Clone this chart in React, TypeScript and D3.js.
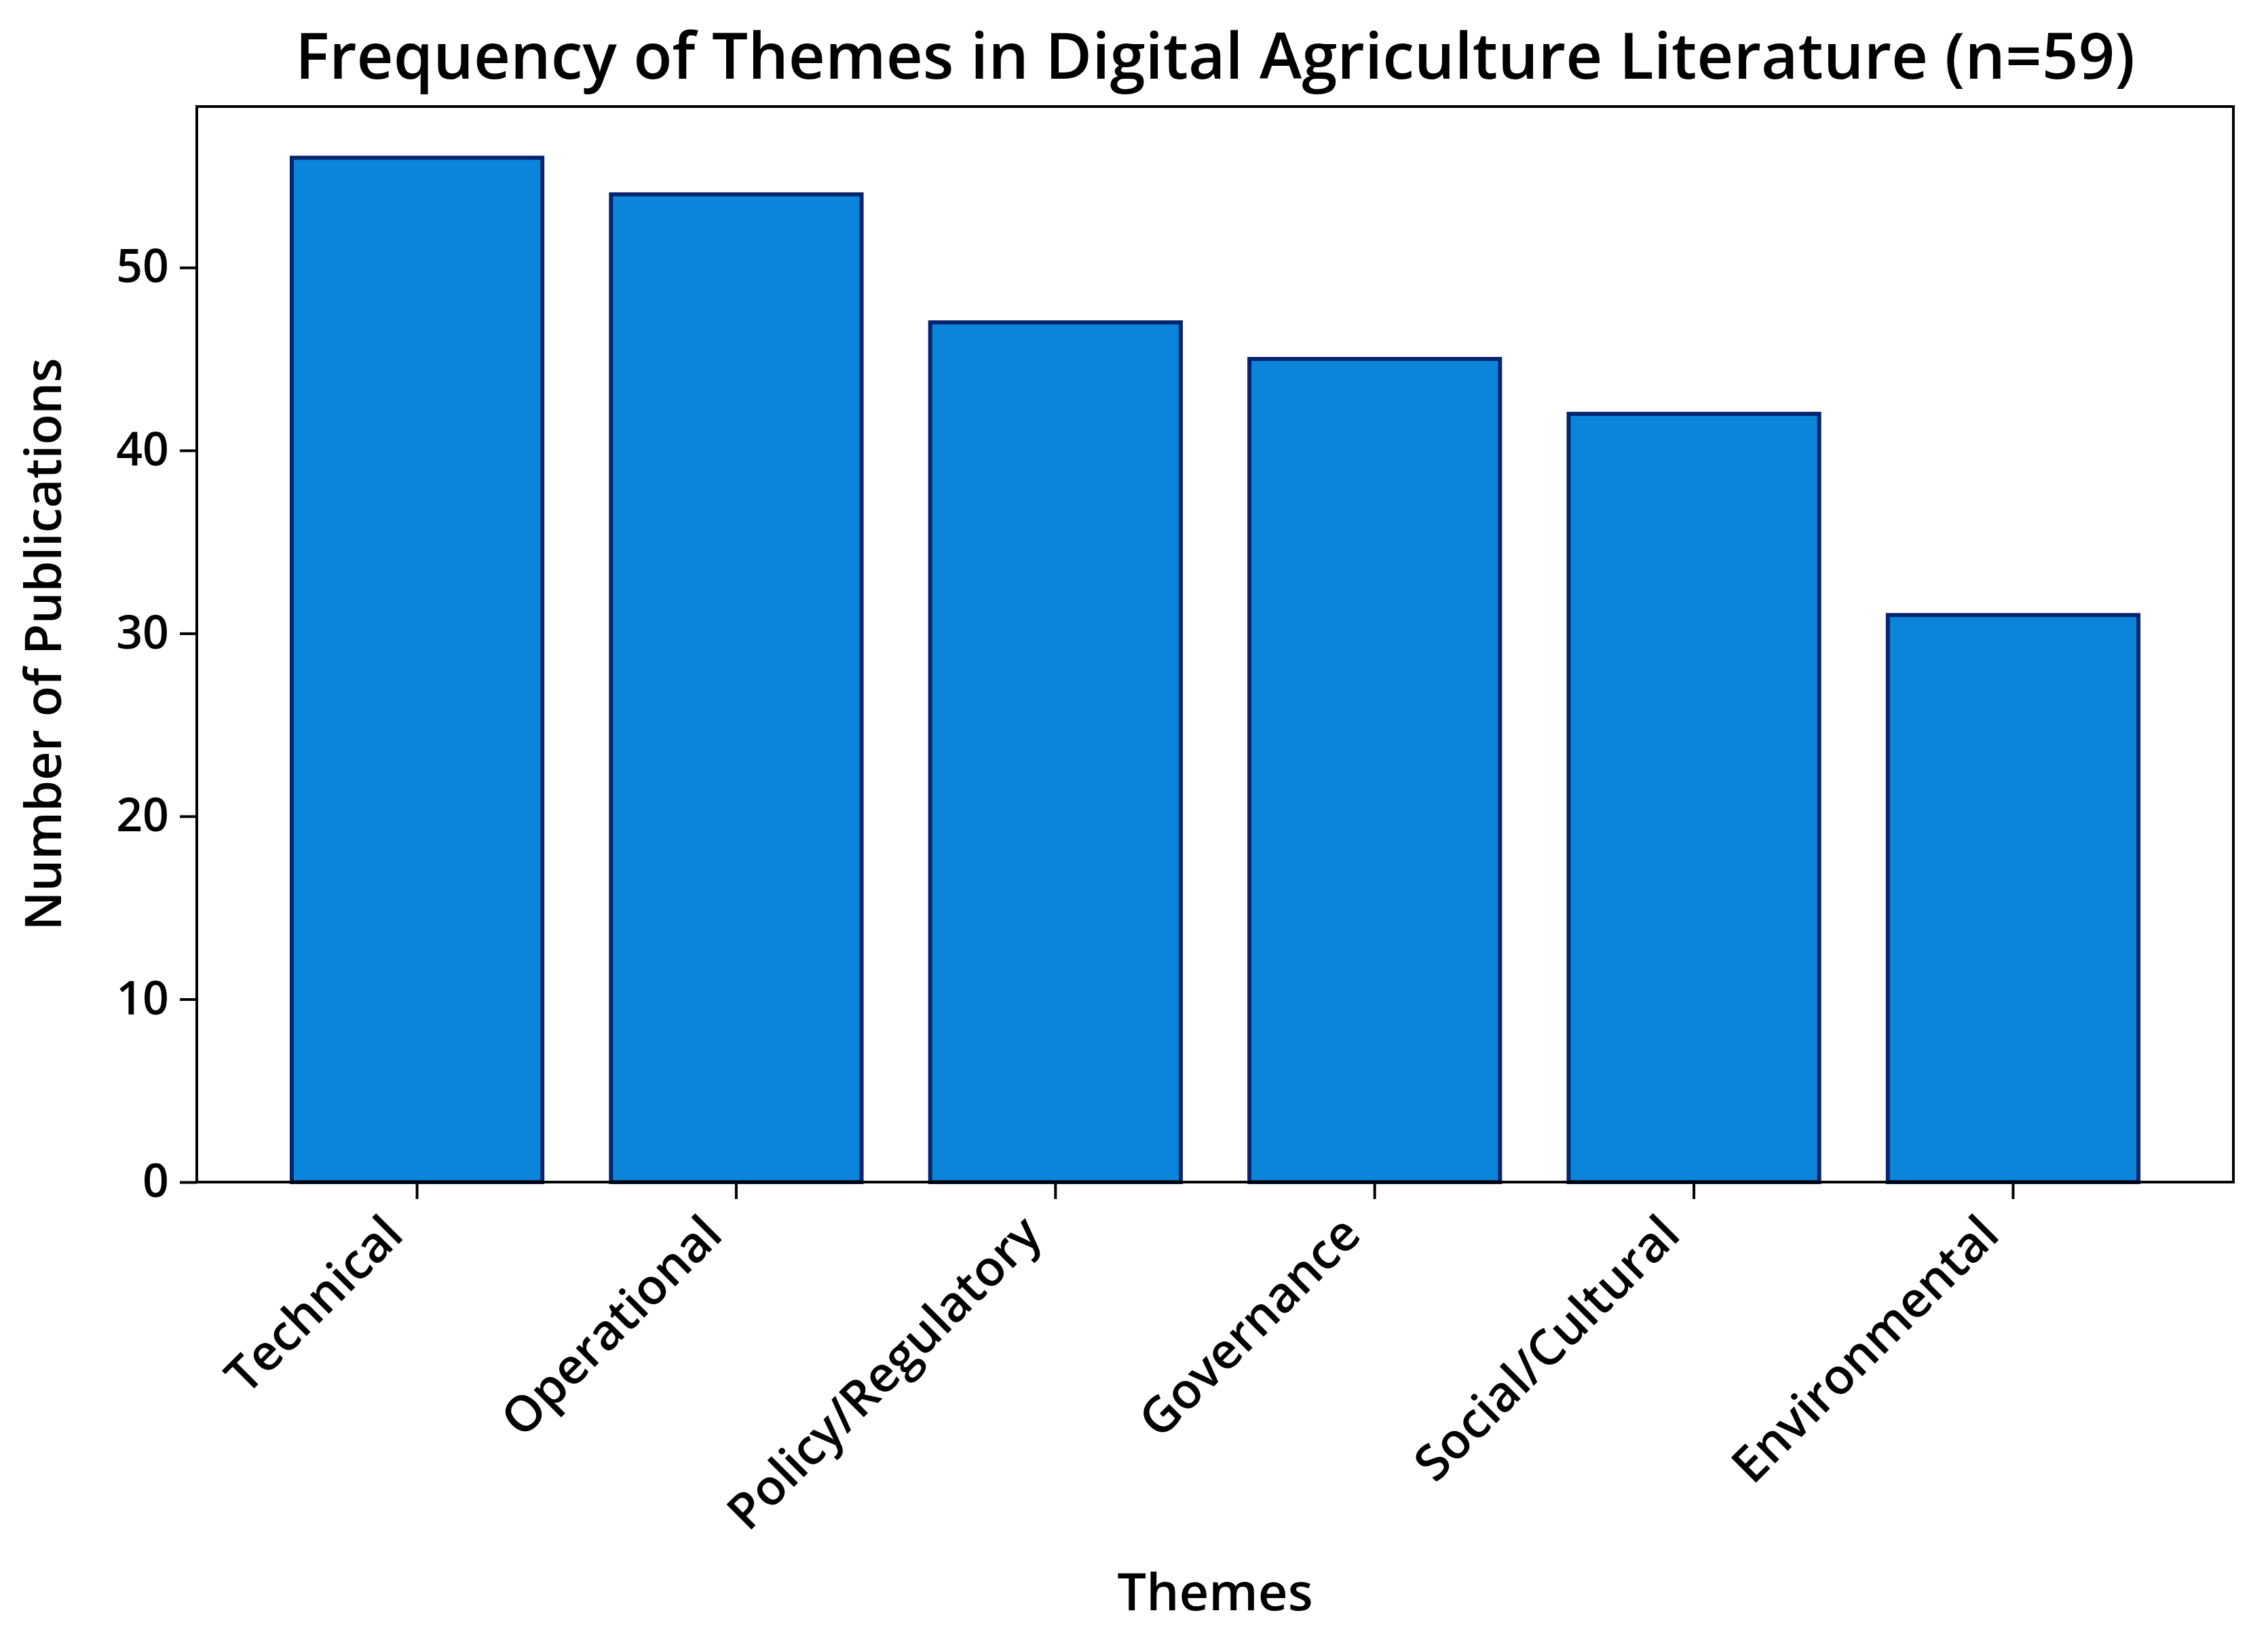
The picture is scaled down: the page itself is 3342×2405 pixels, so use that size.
import React, { useEffect, useRef } from 'react';
import * as d3 from 'd3';

const themes = ['Technical', 'Operational', 'Policy/Regulatory', 'Governance', 'Social/Cultural', 'Environmental'];
const counts = [56, 54, 47, 45, 42, 31];
const yTicks = [0, 10, 20, 30, 40, 50];

const titleText = 'Frequency of Themes in Digital Agriculture Literature (n=59)';
const xLabel = 'Themes';
const yLabel = 'Number of Publications';

const W = 3342;
const H = 2405;
const margin = { left: 290, right: 51, top: 157, bottom: 663 };
const FONT = '"Open Sans", "DejaVu Sans", sans-serif';

export default function App() {
    const ref = useRef<SVGSVGElement>(null);

    useEffect(() => {
        const svg = d3.select(ref.current);
        svg.selectAll('*').remove();

        const width = W - margin.left - margin.right;
        const height = H - margin.top - margin.bottom;

        svg.append('rect').attr('width', W).attr('height', H).attr('fill', '#fff');

        const g = svg.append('g').attr('transform', `translate(${margin.left}, ${margin.top})`);

        const x = d3.scaleBand<string>()
            .domain(themes)
            .range([0, width])
            .paddingInner(0.215)
            .paddingOuter(0.2975);

        const y = d3.scaleLinear()
            .domain([0, d3.max(counts)! * 1.05])
            .range([height, 0]);

        // bars
        g.selectAll('.bar')
            .data(themes)
            .enter()
            .append('rect')
            .attr('class', 'bar')
            .attr('x', d => x(d)!)
            .attr('width', x.bandwidth())
            .attr('y', (d, i) => y(counts[i]))
            .attr('height', (d, i) => height - y(counts[i]))
            .attr('fill', '#0a85d9')
            .attr('stroke', '#06246e')
            .attr('stroke-width', 6);

        // y axis
        const yAxis = g.append('g')
            .call(d3.axisLeft(y).tickValues(yTicks).tickSize(25).tickSizeOuter(0).tickPadding(16));
        yAxis.select('.domain').remove();
        yAxis.selectAll('line').attr('stroke', '#000').attr('stroke-width', 4);
        yAxis.selectAll('text')
            .attr('font-family', FONT)
            .attr('font-weight', 600)
            .attr('font-size', 68)
            .attr('fill', '#000');

        // x axis
        const xAxis = g.append('g')
            .attr('transform', `translate(0, ${height})`)
            .call(d3.axisBottom(x).tickSize(25).tickSizeOuter(0));
        xAxis.select('.domain').remove();
        xAxis.selectAll('line').attr('stroke', '#000').attr('stroke-width', 4);
        xAxis.selectAll('text')
            .attr('font-family', FONT)
            .attr('font-weight', 600)
            .attr('font-size', 73)
            .attr('fill', '#000')
            .attr('text-anchor', 'end')
            .attr('dy', '0.6em')
            .attr('y', 0)
            .attr('transform', 'translate(-48, 50) rotate(-45)');

        // frame
        g.append('rect')
            .attr('width', width)
            .attr('height', height)
            .attr('fill', 'none')
            .attr('stroke', '#000')
            .attr('stroke-width', 4);

        // title
        svg.append('text')
            .attr('x', margin.left + width / 2)
            .attr('y', 116)
            .attr('text-anchor', 'middle')
            .attr('font-family', FONT)
            .attr('font-weight', 600)
            .attr('font-size', 94)
            .text(titleText);

        // x label
        svg.append('text')
            .attr('x', margin.left + width / 2)
            .attr('y', 2373)
            .attr('text-anchor', 'middle')
            .attr('font-family', FONT)
            .attr('font-weight', 600)
            .attr('font-size', 76)
            .text(xLabel);

        // y label
        svg.append('text')
            .attr('transform', `translate(90, ${margin.top + height / 2}) rotate(-90)`)
            .attr('text-anchor', 'middle')
            .attr('font-family', FONT)
            .attr('font-weight', 600)
            .attr('font-size', 74)
            .text(yLabel);
    }, []);

    return (
        <svg ref={ref} width={W} height={H} style={{ position: 'absolute', left: 0, top: 0 }} />
    );
}
